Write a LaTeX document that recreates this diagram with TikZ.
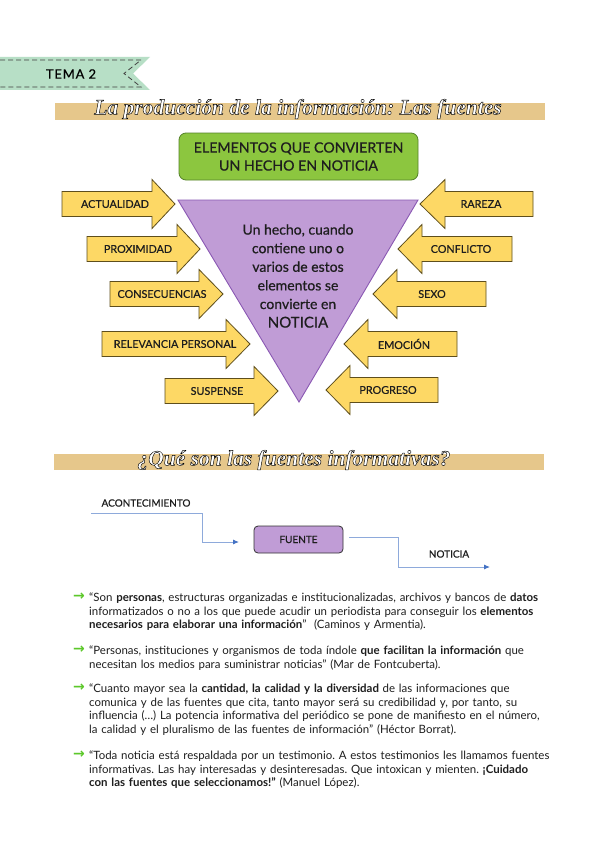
\documentclass[tikz,border=0pt]{standalone}
\usepackage{fontspec}
\setmainfont{Lato}
\newfontfamily\titlefont{Liberation Serif}
\newfontfamily\symfont{DejaVu Sans}
\newfontfamily\medfont[FakeBold=0.6]{Lato}
\usetikzlibrary{arrows.meta}
\frenchspacing
\definecolor{tan}{HTML}{E6C78B}
\definecolor{ribbon}{HTML}{B7DFC6}
\definecolor{yel}{HTML}{FDD865}
\definecolor{yelbd}{HTML}{5E4E1C}
\definecolor{lav}{HTML}{C09CD6}
\definecolor{lavbd}{HTML}{8A58B3}
\definecolor{grn}{HTML}{8CC63F}
\definecolor{grnbd}{HTML}{55822A}
\definecolor{flowln}{HTML}{8EAADB}
\definecolor{flowtip}{HTML}{4472C4}
\definecolor{bul}{HTML}{5CC82A}
\definecolor{txt}{HTML}{1E1E1E}
\newcommand\outl[1]{{\color{white}\special{pdf:literal direct 2 Tr 0.45 w 0 G}#1\special{pdf:literal direct 0 Tr}}}
\newcommand\arrowbox[7]{%
 \draw[yarrow] (#2,#5-12.5) -- (#3,#5-12.5) -- (#3,#5-24.5) -- (#4,#5) -- (#3,#5+24.5) -- (#3,#5+12.5) -- (#2,#5+12.5) -- cycle;
 \node[alab] (#1) at (#6,#5) {#7};}
\tikzset{
 yarrow/.style={fill=yel,draw=yelbd,line width=0.8pt,line join=miter},
 alab/.style={font=\medfont\fontsize{10.8}{12}\selectfont,text=txt,inner sep=0pt},
 titletext/.style={font=\titlefont\bfseries\itshape\fontsize{21.5}{24}\selectfont,inner sep=0pt},
 flowlab/.style={font=\medfont\fontsize{10}{11}\selectfont,text=txt,inner sep=0pt},
 flow/.style={draw=flowln,line width=0.9pt,-{Latex[length=6pt,width=5pt,color=flowtip]}},
 bodytext/.style={font=\fontsize{11.45}{13.8}\selectfont,text=txt,inner sep=0pt,anchor=north west,text width=520pt,align=left},
 bularrow/.style={font=\symfont\bfseries\fontsize{14}{15}\selectfont,text=bul,inner sep=0pt}
}
\begin{document}
\begin{tikzpicture}[x=1pt,y=-1pt]
\useasboundingbox[fill=white] (0,0) rectangle (599,848);
% ribbon
\fill[ribbon] (0,57) -- (150,57) -- (133,73.5) -- (150,90) -- (0,90) -- cycle;
\draw[black!75,dashed,dash pattern=on 5pt off 3pt,line width=0.8pt] (0,60) -- (141,60) -- (124,73.5) -- (141,87) -- (0,87);
\node[font=\medfont\fontsize{13}{15}\selectfont\addfontfeatures{LetterSpace=6},text=black,inner sep=0pt] (tema) at (71,74) {TEMA 2};
% title 1
\fill[tan] (55,103) rectangle (545,120);
\node[titletext] (title1) at (298,109) {\outl{La producción de la información: Las fuentes}};
% green box
\node[fill=grn,draw=grnbd,line width=0.8pt,rounded corners=7pt,minimum width=239pt,minimum height=47pt,align=center,font=\medfont\fontsize{14.2}{18}\selectfont,text=txt] (elem) at (298.5,156.5) {ELEMENTOS QUE CONVIERTEN\\UN HECHO EN NOTICIA};
% triangle
\draw[fill=lav,draw=lavbd,line width=0.9pt] (178,200) -- (418,200) -- (299,402) -- cycle;
\node[align=center,font=\medfont\fontsize{14}{18.6}\selectfont,text=txt,inner sep=0pt] (hecho) at (298,276) {Un hecho, cuando\\contiene uno o\\varios de estos\\elementos se\\convierte en\\{\fontsize{15}{18.6}\selectfont NOTICIA}};
% arrows
\arrowbox{actualidad}{62}{152}{175}{204}{115}{ACTUALIDAD}
\arrowbox{proximidad}{87}{177}{200}{249}{138}{PROXIMIDAD}
\arrowbox{consecuencias}{110}{199}{223}{294}{162}{CONSECUENCIAS}
\arrowbox{relevancia}{102}{226}{250}{344}{175}{RELEVANCIA PERSONAL}
\arrowbox{suspense}{165}{254}{278}{391}{217}{SUSPENSE}
\arrowbox{rareza}{533}{445}{420}{204}{481}{RAREZA}
\arrowbox{conflicto}{512}{422}{398}{249}{461}{CONFLICTO}
\arrowbox{sexo}{486}{397}{373}{294}{432}{SEXO}
\arrowbox{emocion}{457}{368}{344}{344}{404}{EMOCIÓN}
\arrowbox{progreso}{438}{350}{326}{390}{388}{PROGRESO}
% title 2
\fill[tan] (54,454) rectangle (544,470);
\node[titletext] (title2) at (294,460) {\outl{¿Qué son las fuentes informativas?}};
% flow
\node[flowlab] (acon) at (146,503) {ACONTECIMIENTO};
\node[fill=lav,draw=black!80,line width=0.8pt,rounded corners=4pt,minimum width=89pt,minimum height=27pt,font=\medfont\fontsize{10}{11}\selectfont,text=txt] (fuente) at (298.5,539.5) {FUENTE};
\node[flowlab] (noticia) at (449,554) {NOTICIA};
\coordinate (a0) at (91,513);
\coordinate (a1) at (239,542);
\coordinate (b0) at (349,537);
\coordinate (b1) at (490,567);
\draw[flow] (a0) -- ++(111,0) |- (a1);
\draw[flow] (b0) -- ++(49,0) |- (b1);
% bullets
\node[bularrow] (ar1) at (79,597) {→};
\node[bodytext] (t1) at (89,592.4) {“Son \textbf{personas}, estructuras organizadas e institucionalizadas, archivos y bancos de \textbf{datos}\\
informatizados o no a los que puede acudir un periodista para conseguir los \textbf{elementos}\\
\textbf{necesarios para elaborar una información}”\ \ (Caminos y Armentia).};
\node[bularrow] (ar2) at (79,650) {→};
\node[bodytext] (t2) at (89,645.4) {“Personas, instituciones y organismos de toda índole \textbf{que facilitan la información} que\\
necesitan los medios para suministrar noticias” (Mar de Fontcuberta).};
\node[bularrow] (ar3) at (79,688) {→};
\node[bodytext] (t3) at (89,683.4) {“Cuanto mayor sea la \textbf{cantidad, la calidad y la diversidad} de las informaciones que\\
comunica y de las fuentes que cita, tanto mayor será su credibilidad y, por tanto, su\\
influencia (…) La potencia informativa del periódico se pone de manifiesto en el número,\\
la calidad y el pluralismo de las fuentes de información” (Héctor Borrat).};
\node[bularrow] (ar4) at (79,755) {→};
\node[bodytext] (t4) at (89,750.4) {“Toda noticia está respaldada por un testimonio. A estos testimonios les llamamos fuentes\\
informativas. Las hay interesadas y desinteresadas. Que intoxican y mienten. \textbf{¡Cuidado}\\
\textbf{con las fuentes que seleccionamos!”} (Manuel López).};
\end{tikzpicture}
\end{document}
